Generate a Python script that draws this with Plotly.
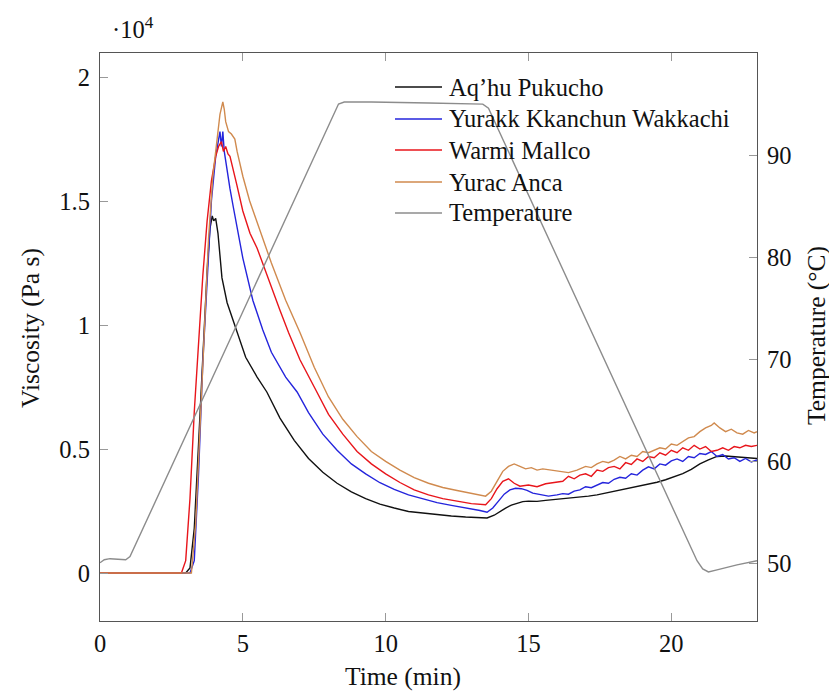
import plotly.graph_objects as go

# ---------------- data ----------------
series_names = ["Aq’hu Pukucho", "Yurakk Kkanchun Wakkachi", "Warmi Mallco", "Yurac Anca"]
temp_name = "Temperature"

# Aq'hu Pukucho (black)
t_black = [0, 3.0, 3.15, 3.3, 3.45, 3.6, 3.75, 3.85, 3.93, 3.98, 4.05, 4.13, 4.27, 4.45, 4.8, 5.1, 5.5, 5.84,
           6.3, 6.8, 7.3, 7.8, 8.3, 8.8, 9.3, 9.8, 10.3, 10.8, 11.3, 11.8, 12.3, 12.8, 13.3, 13.55,
           13.8, 14.0, 14.2, 14.4, 14.6, 14.8, 15.0, 15.3, 15.6, 15.9, 16.2, 16.5, 16.8, 17.1, 17.4, 17.7,
           18.0, 18.3, 18.6, 18.9, 19.2, 19.5, 19.8, 20.1, 20.4, 20.7, 21.0, 21.3, 21.6, 21.9, 22.2, 22.5, 22.8, 23.0]
v_black = [0, 0, 200, 1800, 5200, 9000, 12200, 13900, 14400, 14200, 14300, 13700, 11900, 10900, 9700, 8700, 7900, 7300,
           6250, 5350, 4620, 4060, 3620, 3270, 3000, 2780, 2620, 2480, 2420, 2350, 2300, 2260, 2220, 2220,
           2330, 2480, 2620, 2740, 2820, 2880, 2900, 2890, 2930, 2960, 3000, 3020, 3060, 3100, 3150, 3220,
           3300, 3370, 3440, 3500, 3580, 3660, 3760, 3880, 4010, 4180, 4400, 4560, 4700, 4720, 4700, 4680, 4660, 4620]

# Yurakk Kkanchun Wakkachi (blue)
t_blue = [0, 3.15, 3.3, 3.45, 3.6, 3.75, 3.9, 4.05, 4.15, 4.2, 4.25, 4.3, 4.35, 4.45, 4.55, 4.66, 4.8, 5.0, 5.35,
          5.7, 6.0, 6.5, 6.9, 7.3, 7.8, 8.3, 8.8, 9.3, 9.8, 10.3, 10.8, 11.3, 11.8, 12.3, 12.8, 13.3, 13.55,
          13.75, 13.95, 14.15, 14.35, 14.55, 14.75, 14.95, 15.15, 15.4, 15.7, 16.0, 16.2, 16.4, 16.6, 16.8, 17.0,
          17.2, 17.4, 17.6, 17.8, 18.0, 18.2, 18.4, 18.6, 18.8, 19.0, 19.2, 19.4, 19.6, 19.8, 20.0, 20.2, 20.4,
          20.6, 20.8, 21.0, 21.2, 21.4, 21.6, 21.8, 22.0, 22.2, 22.4, 22.6, 22.8, 23.0]
v_blue = [0, 0, 500, 4000, 8500, 12000, 15000, 16800, 17400, 17800, 17200, 17800, 17000, 16200, 15500, 14800, 13900, 12700, 11000,
          9800, 8900, 7900, 7300, 6470, 5600, 4950, 4400, 4000, 3640, 3370, 3150, 2980, 2840, 2730, 2640, 2520, 2450,
          2620, 2900, 3180, 3350, 3420, 3400, 3330, 3220, 3160, 3100, 3150, 3200, 3180, 3300, 3350, 3480,
          3440, 3560, 3650, 3620, 3780, 3860, 3820, 4000, 3950, 4150, 4280, 4200, 4400, 4350, 4520, 4600, 4500,
          4700, 4650, 4820, 4780, 4900, 4700, 4780, 4600, 4650, 4500, 4620, 4480, 4560]

# Warmi Mallco (red)
t_red = [0, 2.85, 3.0, 3.15, 3.3, 3.45, 3.6, 3.75, 3.9, 4.05, 4.15, 4.25, 4.32, 4.4, 4.48, 4.55, 4.66, 4.78, 5.0,
         5.25, 5.5, 5.94, 6.3, 6.6, 7.0, 7.5, 8.0, 8.5, 9.0, 9.5, 10.0, 10.5, 11.0, 11.5, 12.0, 12.5, 13.0, 13.5,
         13.7, 13.9, 14.1, 14.3, 14.5, 14.7, 15.0, 15.3, 15.6, 15.9, 16.2, 16.4, 16.6, 16.8, 17.0, 17.2, 17.4,
         17.6, 17.8, 18.0, 18.2, 18.4, 18.6, 18.8, 19.0, 19.2, 19.4, 19.6, 19.8, 20.0, 20.2, 20.4, 20.6, 20.8,
         21.0, 21.2, 21.4, 21.6, 21.8, 22.0, 22.2, 22.4, 22.6, 22.8, 23.0]
v_red = [0, 0, 500, 3000, 6500, 9500, 12000, 14200, 15800, 16800, 17200, 17400, 17000, 17200, 16900, 16800, 16300, 15700, 14600,
         13700, 13100, 11700, 10600, 9700, 8600, 7500, 6400, 5600, 4900, 4400, 4000, 3650, 3350, 3150, 3000, 2900, 2800, 2750,
         3000, 3400, 3700, 3800, 3620, 3500, 3550, 3480, 3600, 3650, 3700, 3900, 3800, 3950, 4000, 3900, 4150,
         4100, 4250, 4300, 4200, 4450, 4380, 4600, 4500, 4700, 4650, 4850, 4750, 4950, 4850, 5050, 4950, 5150,
         5000, 5100, 4900, 4950, 5050, 4950, 5100, 5050, 5150, 5100, 5150]

# Yurac Anca (orange)
t_orange = [0, 3.2, 3.35, 3.5, 3.65, 3.8, 3.95, 4.1, 4.2, 4.3, 4.35, 4.4, 4.5, 4.6, 4.72, 4.8, 5.0, 5.24, 5.6,
            6.0, 6.5, 7.0, 7.5, 8.0, 8.5, 9.0, 9.5, 10.0, 10.5, 11.0, 11.5, 12.0, 12.5, 13.0, 13.5,
            13.7, 13.9, 14.1, 14.3, 14.5, 14.7, 14.9, 15.1, 15.3, 15.5, 15.8, 16.1, 16.4, 16.7, 17.0, 17.2, 17.4,
            17.6, 17.8, 18.0, 18.2, 18.4, 18.6, 18.8, 19.0, 19.2, 19.4, 19.6, 19.8, 20.0, 20.2, 20.4, 20.6, 20.8,
            21.0, 21.2, 21.4, 21.5, 21.7, 21.9, 22.1, 22.3, 22.5, 22.7, 22.9, 23.0]
v_orange = [0, 0, 2000, 6000, 10000, 13500, 16000, 17500, 18500, 19000, 18700, 18200, 17800, 17700, 17500, 17000, 16000, 15000, 13800,
            12500, 11000, 9700, 8300, 7100, 6200, 5500, 4900, 4500, 4150, 3850, 3620, 3450, 3330, 3200, 3100,
            3300, 3700, 4100, 4300, 4400, 4300, 4200, 4250, 4150, 4200, 4150, 4100, 4050, 4150, 4300, 4250, 4400,
            4500, 4450, 4550, 4700, 4600, 4750, 4700, 4900, 4850, 4950, 5050, 5000, 5200, 5150, 5300, 5450, 5500,
            5700, 5850, 5950, 6050, 5850, 5700, 5800, 5650, 5600, 5750, 5650, 5700]

# Temperature profile (right axis, °C)
t_temp = [0, 0.15, 0.35, 0.9, 1.05, 8.35, 8.55, 9.5, 11.5, 13.4, 13.6, 20.9, 21.1, 21.3, 21.6, 22.3, 23.0]
v_temp = [50.1, 50.4, 50.5, 50.4, 50.7, 95.0, 95.2, 95.2, 95.1, 95.0, 94.6, 50.3, 49.5, 49.2, 49.4, 49.9, 50.3]

# axis ticks
x_ticks = [0, 5, 10, 15, 20]
y_ticks = [0, 5000, 10000, 15000, 20000]
y_tick_text = ["0", "0.5", "1", "1.5", "2"]
y2_ticks = [50, 60, 70, 80, 90]

colors = ["#111111", "#2424dc", "#e8151b", "#d08a4e"]
temp_color = "#8c8c8c"

# ---------------- figure ----------------
OFF = 8                      # page body margin of the html page
PW, PH = 837, 691            # browser window
W, H = PW - OFF, PH - OFF    # figure size
PLOT_L, PLOT_R, PLOT_T, PLOT_B = 100, 757, 53, 621   # plot box in window pixels
L, R, T, B = PLOT_L - OFF, OFF + W - PLOT_R, PLOT_T - OFF, OFF + H - PLOT_B
FONT = "Liberation Serif"
FS = 24.5
FS_TITLE = 25.5

pw, ph = PLOT_R - PLOT_L, PLOT_B - PLOT_T
def px(xp):
    return (xp - PLOT_L) / pw
def py(yp):
    return (PLOT_B - yp) / ph

fig = go.Figure()
all_t = [t_black, t_blue, t_red, t_orange]
all_v = [v_black, v_blue, v_red, v_orange]
for name, tx, vy, c in zip(series_names, all_t, all_v, colors):
    fig.add_trace(go.Scatter(x=tx, y=vy, mode="lines", name=name,
                             line=dict(color=c, width=1.4), showlegend=False))
fig.add_trace(go.Scatter(x=t_temp, y=v_temp, mode="lines", name=temp_name, yaxis="y2",
                         line=dict(color=temp_color, width=1.4), showlegend=False))

axis_common = dict(showline=True, linecolor="#555555", linewidth=1.3, ticks="inside", ticklen=8,
                   tickcolor="#999999", tickwidth=1, showgrid=False, zeroline=False,
                   tickfont=dict(family=FONT, size=FS, color="#111111"))

fig.update_layout(
    width=W, height=H,
    margin=dict(l=L, r=R, t=T, b=B, pad=0),
    paper_bgcolor="white", plot_bgcolor="white",
    font=dict(family=FONT, size=FS, color="#111111"),
    showlegend=False,
    xaxis=dict(range=[0, 23], tickvals=x_ticks, mirror="ticks", ticklabelstandoff=0, **axis_common),
    yaxis=dict(range=[-1935, 20970], tickvals=y_ticks, ticktext=y_tick_text, ticklabelstandoff=4, **axis_common),
    yaxis2=dict(range=[44.4, 100], tickvals=y2_ticks, overlaying="y", side="right", ticklabelstandoff=4,
                **axis_common),
)

# axis titles and exponent label
fig.add_annotation(text="Time (min)", xref="paper", yref="paper", x=px(403), y=py(676),
                   xanchor="center", yanchor="middle", showarrow=False, font=dict(family=FONT, size=FS_TITLE))
fig.add_annotation(text="Viscosity (Pa s)", xref="paper", yref="paper", x=px(30), y=py(328),
                   xanchor="center", yanchor="middle", textangle=-90, showarrow=False,
                   font=dict(family=FONT, size=FS_TITLE))
fig.add_annotation(text="Temperature (°C)", xref="paper", yref="paper", x=px(817), y=py(336),
                   xanchor="center", yanchor="middle", textangle=-90, showarrow=False,
                   font=dict(family=FONT, size=FS_TITLE))
fig.add_annotation(text="·10<sup>4</sup>", xref="paper", yref="paper", x=px(110), y=py(28),
                   xanchor="left", yanchor="middle", showarrow=False, font=dict(family=FONT, size=FS))

# legend drawn by hand (line sample + label), placed as in the reference
legend_rows = [87, 119, 150, 182, 213]
for name, c, yrow in zip(series_names + [temp_name], colors + [temp_color], legend_rows):
    fig.add_shape(type="line", xref="paper", yref="paper", x0=px(395), x1=px(442), y0=py(yrow), y1=py(yrow),
                  line=dict(color=c, width=1.4))
    fig.add_annotation(text=name, xref="paper", yref="paper", x=px(447), y=py(yrow), xanchor="left",
                       yanchor="middle", showarrow=False, font=dict(family=FONT, size=FS))

fig.write_html("out.html")
